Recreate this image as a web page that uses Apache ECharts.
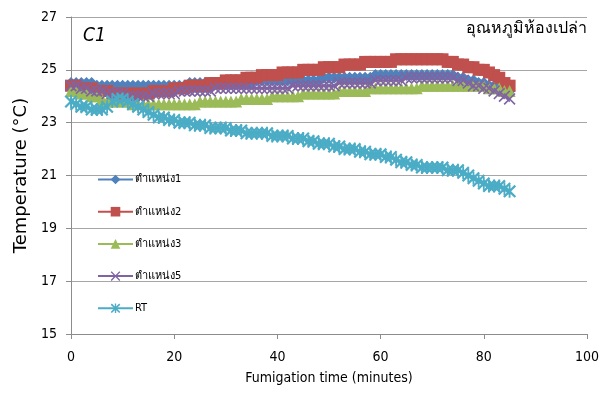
<!DOCTYPE html>
<html>
<head>
<meta charset="utf-8">
<script src="https://cdn.jsdelivr.net/npm/echarts@6/dist/echarts.min.js"></script>
<style>
html,body{margin:0;padding:0;background:#fff;}
#chart{width:604px;height:394px;}
</style>
</head>
<body>
<div id="chart"></div>
<script>
var times = [
 0,1,2,3,4,5,6,7,8,9,
 10,11,12,13,14,15,16,17,18,19,
 20,21,22,23,24,25,26,27,28,29,
 30,31,32,33,34,35,36,37,38,39,
 40,41,42,43,44,45,46,47,48,49,
 50,51,52,53,54,55,56,57,58,59,
 60,61,62,63,64,65,66,67,68,69,
 70,71,72,73,74,75,76,77,78,79,
 80,81,82,83,84,85];

var pos1 = [
 24.5,24.5,24.5,24.5,24.5,24.4,24.4,24.4,24.4,24.4,
 24.4,24.4,24.4,24.4,24.4,24.4,24.4,24.4,24.4,24.4,
 24.4,24.4,24.4,24.5,24.5,24.5,24.5,24.5,24.5,24.5,
 24.5,24.5,24.5,24.5,24.5,24.5,24.6,24.6,24.6,24.6,
 24.6,24.6,24.6,24.6,24.6,24.6,24.6,24.6,24.6,24.7,
 24.7,24.7,24.7,24.7,24.7,24.7,24.7,24.7,24.7,24.8,
 24.8,24.8,24.8,24.8,24.8,24.8,24.8,24.8,24.8,24.8,
 24.8,24.8,24.8,24.8,24.8,24.7,24.7,24.6,24.6,24.5,
 24.5,24.4,24.4,24.3,24.2,24.2];

var pos2 = [
 24.4,24.4,24.3,24.3,24.3,24.2,24.2,24.2,24.1,24.1,
 24.1,24.1,24.1,24.1,24.1,24.1,24.2,24.2,24.2,24.2,
 24.3,24.3,24.3,24.4,24.4,24.4,24.4,24.5,24.5,24.5,
 24.6,24.6,24.6,24.6,24.7,24.7,24.7,24.8,24.8,24.8,
 24.8,24.9,24.9,24.9,24.9,25.0,25.0,25.0,25.0,25.1,
 25.1,25.1,25.1,25.2,25.2,25.2,25.2,25.3,25.3,25.3,
 25.3,25.3,25.3,25.4,25.4,25.4,25.4,25.4,25.4,25.4,
 25.4,25.4,25.4,25.3,25.3,25.2,25.2,25.1,25.1,25.0,
 25.0,24.9,24.8,24.7,24.5,24.4];

var pos3 = [
 24.2,24.2,24.1,24.1,24.0,24.0,23.9,23.8,23.8,23.8,
 23.8,23.8,23.7,23.7,23.7,23.7,23.7,23.7,23.7,23.7,
 23.7,23.7,23.7,23.7,23.7,23.8,23.8,23.8,23.8,23.8,
 23.8,23.8,23.8,23.9,23.9,23.9,23.9,23.9,23.9,24.0,
 24.0,24.0,24.0,24.0,24.0,24.1,24.1,24.1,24.1,24.1,
 24.1,24.1,24.2,24.2,24.2,24.2,24.2,24.2,24.3,24.3,
 24.3,24.3,24.3,24.3,24.3,24.3,24.3,24.3,24.4,24.4,
 24.4,24.4,24.4,24.4,24.4,24.4,24.4,24.4,24.4,24.4,
 24.4,24.3,24.3,24.3,24.2,24.2];

var pos5 = [
 24.4,24.4,24.3,24.3,24.2,24.2,24.2,24.1,24.1,24.1,
 24.1,24.0,24.0,24.0,24.0,24.0,24.1,24.1,24.1,24.1,
 24.1,24.2,24.2,24.2,24.2,24.2,24.2,24.2,24.3,24.3,
 24.3,24.3,24.3,24.3,24.3,24.3,24.3,24.3,24.3,24.3,
 24.3,24.3,24.3,24.4,24.4,24.4,24.4,24.4,24.4,24.4,
 24.4,24.4,24.5,24.5,24.5,24.5,24.5,24.5,24.5,24.6,
 24.6,24.6,24.6,24.6,24.6,24.7,24.7,24.7,24.7,24.7,
 24.7,24.7,24.7,24.7,24.7,24.6,24.6,24.5,24.4,24.4,
 24.3,24.3,24.2,24.1,24.0,23.9];

var rt = [
 23.8,23.7,23.6,23.6,23.5,23.5,23.5,23.6,23.8,23.9,
 23.9,23.8,23.7,23.6,23.5,23.4,23.3,23.2,23.2,23.1,
 23.1,23.0,23.0,23.0,22.9,22.9,22.9,22.8,22.8,22.8,
 22.8,22.7,22.7,22.7,22.6,22.6,22.6,22.6,22.6,22.5,
 22.5,22.5,22.5,22.4,22.4,22.4,22.3,22.3,22.2,22.2,
 22.2,22.1,22.1,22.0,22.0,22.0,21.9,21.9,21.8,21.8,
 21.8,21.7,21.7,21.6,21.5,21.5,21.4,21.4,21.3,21.3,
 21.3,21.3,21.3,21.2,21.2,21.2,21.1,21.0,20.9,20.8,
 20.7,20.6,20.6,20.6,20.5,20.4];

var seriesNames = ['ตำแหน่ง1','ตำแหน่ง2','ตำแหน่ง3','ตำแหน่ง5','RT'];
var seriesColors = ['#4F81BD','#C0504D','#9BBB59','#8064A2','#4BACC6'];
var seriesValues = [pos1, pos2, pos3, pos5, rt];

var yTicks = [15,17,19,21,23,25,27];
var xTicks = [0,20,40,60,80,100];

var xPath = 'path://M0,1 L1,0 L5,4 L9,0 L10,1 L6,5 L10,9 L9,10 L5,6 L1,10 L0,9 L4,5 Z';
var starPath = 'path://M0,1.2 L1.2,0 L5,3.8 L8.8,0 L10,1.2 L6.2,5 L10,8.8 L8.8,10 L5,6.2 L1.2,10 L0,8.8 L3.8,5 Z M4.3,0 L5.7,0 L5.7,10 L4.3,10 Z';
var symbols = ['diamond','rect','triangle', xPath, starPath];
var sizes = [12, 12, 12, 12, 13];

var FONT = "Tahoma, 'DejaVu Sans Condensed', 'DejaVu Sans', sans-serif";

function pairs(vals){
  var out = [];
  for (var i = 0; i < vals.length; i++) out.push([times[i], vals[i]]);
  return out;
}

var series = seriesNames.map(function(n, i){
  return {
    name: n,
    type: 'line',
    data: pairs(seriesValues[i]),
    symbol: symbols[i],
    symbolSize: sizes[i],
    showAllSymbol: true,
    animation: false,
    itemStyle: {color: seriesColors[i], borderWidth: 0},
    lineStyle: {color: seriesColors[i], width: 2.5}
  };
});

var chart = echarts.init(document.getElementById('chart'), null, {renderer: 'canvas'});
chart.setOption({
  animation: false,
  backgroundColor: '#fff',
  grid: {left: 71, right: 17, top: 17, bottom: 60, containLabel: false},
  legend: {
    orient: 'vertical',
    left: 92,
    top: 169,
    itemWidth: 35,
    itemHeight: 12,
    itemGap: 21.2,
    textStyle: {fontFamily: FONT, fontSize: 11, color: '#000', padding: [0,0,0,-3]},
    data: seriesNames
  },
  xAxis: {
    type: 'value',
    min: xTicks[0],
    max: xTicks[xTicks.length-1],
    interval: 20,
    name: 'Fumigation time (minutes)',
    nameLocation: 'middle',
    nameGap: 37,
    nameTextStyle: {fontFamily: FONT, fontSize: 14, color: '#000'},
    axisLine: {lineStyle: {color: '#8C8C8C', width: 1}},
    axisTick: {show: true, length: 5, lineStyle: {color: '#8C8C8C'}},
    axisLabel: {fontFamily: FONT, fontSize: 14, color: '#000', margin: 16},
    splitLine: {show: false}
  },
  yAxis: {
    type: 'value',
    min: yTicks[0],
    max: yTicks[yTicks.length-1],
    interval: 2,
    name: 'Temperature (°C)',
    nameLocation: 'middle',
    nameGap: 40,
    nameRotate: 90,
    nameTextStyle: {fontFamily: "'DejaVu Sans', sans-serif", fontSize: 18, color: '#000'},
    axisLine: {show: true, lineStyle: {color: '#8C8C8C', width: 1}},
    axisTick: {show: true, length: 5, lineStyle: {color: '#8C8C8C'}},
    axisLabel: {fontFamily: FONT, fontSize: 14, color: '#000', margin: 14},
    splitLine: {show: true, lineStyle: {color: '#A6A6A6', width: 1}}
  },
  graphic: [
    {type: 'text', left: 83, top: 27, style: {text: 'C1', font: "italic 19px " + FONT, fill: '#000'}},
    {type: 'text', right: 17, top: 21, style: {text: 'อุณหภูมิห้องเปล่า', font: "16px " + FONT, fill: '#000'}}
  ],
  series: series
});
</script>
</body>
</html>
